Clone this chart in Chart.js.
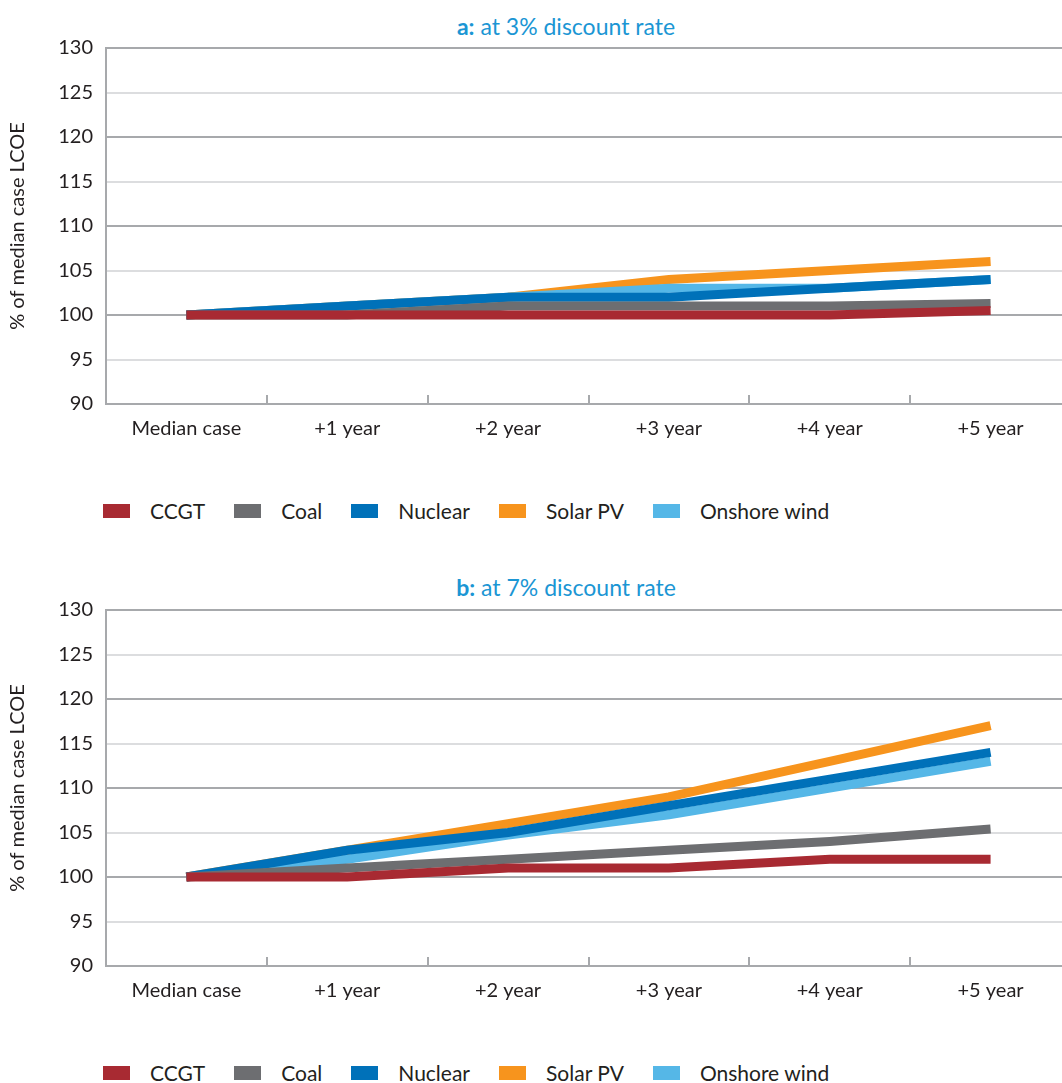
<!DOCTYPE html>
<html>
<head>
<meta charset="utf-8">
<script src="https://cdn.jsdelivr.net/npm/chart.js@4.4.1/dist/chart.umd.min.js"></script>
<style>
  html, body { margin: 0; padding: 0; background: #fff; overflow: hidden; }
  body { width: 1062px; height: 1083px; position: relative; font-family: Lato, sans-serif; }
  .panel-title { position: absolute; left: 0; width: 1132px; text-align: center; color: #1b96d4; font-size: 23px; }
  .panel-title b { font-weight: 700; }
  canvas { position: absolute; left: 0; }
  .legend { position: absolute; left: 103px; display: flex; align-items: center; font-size: 21px; color: #231f20; }
  .legend .item { display: flex; align-items: center; margin-right: 29px; }
  .legend .box { width: 27px; height: 14px; margin-right: 20px; }
</style>
</head>
<body>
<div class="panel-title" style="top:12px"><b>a:</b> at 3% discount rate</div>
<canvas id="chart-a" width="1075" height="425" style="top:23px"></canvas>
<div class="legend" id="legend-a" style="top:498px"></div>

<div class="panel-title" style="top:573px"><b>b:</b> at 7% discount rate</div>
<canvas id="chart-b" width="1075" height="425" style="top:585px"></canvas>
<div class="legend" id="legend-b" style="top:1060px"></div>

<script>
// Categories and tick values
const categories = ['Median case', '+1 year', '+2 year', '+3 year', '+4 year', '+5 year'];
const seriesNames = ['CCGT', 'Coal', 'Nuclear', 'Solar PV', 'Onshore wind'];
const seriesColors = ['#a82a32', '#6d6e71', '#0071b9', '#f7941d', '#55b7e7'];
const yMin = 90;
const yMax = 130;
const yStep = 5;

// a: at 3% discount rate
const ccgtA = [100, 100, 100, 100, 100, 100.5];
const coalA = [100, 100, 101, 101, 101, 101.3];
const nuclearA = [100, 101, 102, 102, 103, 104];
const solarA = [100, 101, 102, 104, 105, 106];
const windA = [100, 101, 102, 103, 103, 104];

// b: at 7% discount rate
const ccgtB = [100, 100, 101, 101, 102, 102];
const coalB = [100, 101, 102, 103, 104, 105.4];
const nuclearB = [100, 103, 105, 108, 111, 114];
const solarB = [100, 103, 106, 109, 113, 117];
const windB = [100, 102, 104.7, 107, 110, 113];

// draw order: CCGT on top, then coal, nuclear, wind, solar at the back
const drawOrder = [0, 1, 2, 4, 3];

// Small upward tick marks between the categories
const categoryTicks = {
  id: 'categoryTicks',
  afterDatasetsDraw(chart) {
    const x = chart.scales.x;
    const bottom = chart.chartArea.bottom;
    const ctx = chart.ctx;
    ctx.save();
    ctx.strokeStyle = '#a7a9ac';
    ctx.lineWidth = 2;
    for (let i = 0; i < categories.length - 1; i++) {
      const px = Math.round((x.getPixelForValue(i) + x.getPixelForValue(i + 1)) / 2);
      ctx.beginPath();
      ctx.moveTo(px, bottom);
      ctx.lineTo(px, bottom - 9);
      ctx.stroke();
    }
    ctx.restore();
  }
};

function buildChart(canvasId, seriesData) {
  const datasets = seriesData.map((data, i) => ({
    label: seriesNames[i],
    data: data,
    borderColor: seriesColors[i],
    backgroundColor: seriesColors[i],
    borderWidth: 9,
    borderCapStyle: 'butt',
    borderJoinStyle: 'miter',
    pointRadius: 0,
    tension: 0,
    order: drawOrder[i]
  }));

  const ctx = document.getElementById(canvasId).getContext('2d');
  new Chart(ctx, {
    type: 'line',
    data: { labels: categories, datasets: datasets },
    options: {
      responsive: false,
      animation: false,
      layout: { padding: { top: 0, right: 4, left: 0, bottom: 0 } },
      plugins: {
        legend: { display: false },
        tooltip: { enabled: false }
      },
      scales: {
        x: {
          offset: true,
          grid: { display: false },
          border: { display: false },
          ticks: {
            color: '#231f20',
            font: { family: 'Lato', size: 20 },
            padding: 5,
            maxRotation: 0
          },
          afterFit: s => { s.height = 44; }
        },
        y: {
          min: yMin,
          max: yMax,
          ticks: {
            stepSize: yStep,
            color: '#231f20',
            font: { family: 'Lato', size: 20 },
            padding: 13
          },
          grid: {
            drawTicks: false,
            color: c => (c.tick && c.tick.value % 10 === 0) ? '#a7a9ac' : '#dcdddf',
            lineWidth: 2
          },
          border: { color: '#a7a9ac', width: 2 },
          title: {
            display: true,
            text: '% of median case LCOE',
            color: '#231f20',
            font: { family: 'Lato', size: 20 },
            padding: { top: 6, bottom: 4 }
          },
          afterFit: s => { s.width = 106; }
        }
      }
    },
    plugins: [categoryTicks]
  });
}

function buildLegend(id) {
  const el = document.getElementById(id);
  seriesNames.forEach((name, i) => {
    const item = document.createElement('div');
    item.className = 'item';
    const box = document.createElement('span');
    box.className = 'box';
    box.style.background = seriesColors[i];
    const label = document.createElement('span');
    label.textContent = name;
    item.appendChild(box);
    item.appendChild(label);
    el.appendChild(item);
  });
}

buildChart('chart-a', [ccgtA, coalA, nuclearA, solarA, windA]);
buildChart('chart-b', [ccgtB, coalB, nuclearB, solarB, windB]);
buildLegend('legend-a');
buildLegend('legend-b');
</script>
</body>
</html>
